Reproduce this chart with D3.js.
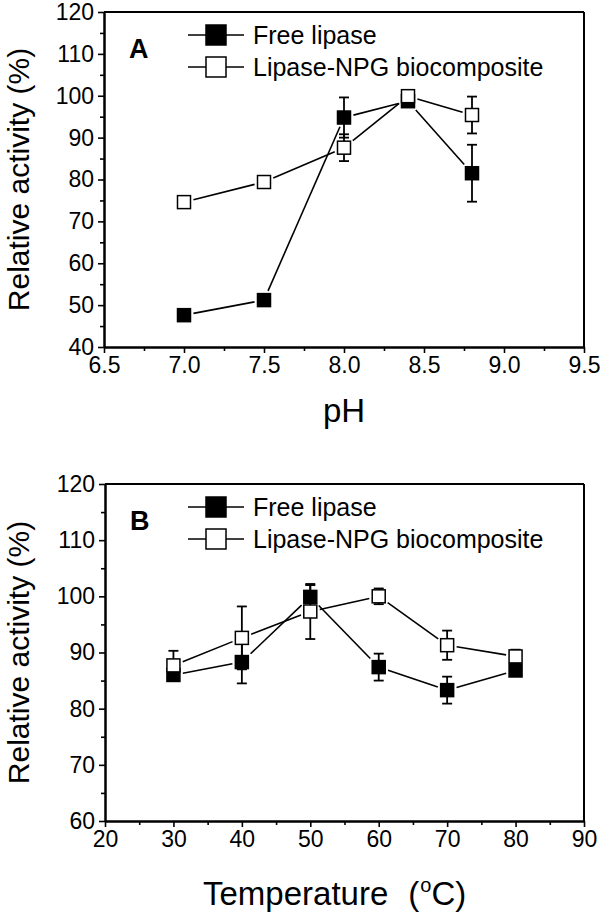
<!DOCTYPE html>
<html><head><meta charset="utf-8">
<script src="https://cdn.jsdelivr.net/npm/d3@7"></script>
<style>body{margin:0;background:#fff}svg{display:block}text{font-family:"Liberation Sans",Arial,sans-serif;fill:#000}</style>
</head><body><svg id="c" width="600" height="913"></svg>
<script>
// Panel A: pH
const phValues = [7.0, 7.5, 8.0, 8.4, 8.8];
const phFree = [47.6, 51.2, 94.8, 98.7, 81.5];
const phFreeErr = [1.0, 0.8, 4.8, 1.0, 6.8];
const phNPG = [74.6, 79.4, 87.6, 99.9, 95.4];
const phNPGErr = [1.2, 1.2, 3.2, 1.0, 4.4];
const phTicks = [6.5, 7.0, 7.5, 8.0, 8.5, 9.0, 9.5];
const phYTicks = [40, 50, 60, 70, 80, 90, 100, 110, 120];

// Panel B: temperature
const tempValues = [30, 40, 50, 60, 70, 80];
const tempFree = [86.0, 88.3, 99.9, 87.4, 83.3, 86.8];
const tempFreeErr = [1.0, 3.8, 2.1, 2.4, 2.4, 1.0];
const tempNPG = [87.7, 92.6, 97.3, 100.0, 91.3, 89.3];
const tempNPGErr = [2.6, 5.6, 4.9, 1.4, 2.6, 1.2];
const tempTicks = [20, 30, 40, 50, 60, 70, 80, 90];
const tempYTicks = [60, 70, 80, 90, 100, 110, 120];

const seriesNames = ["Free lipase", "Lipase-NPG biocomposite"];

const svg = d3.select("#c");

function panel(opt) {
  const x = d3.scaleLinear().domain(opt.xDomain).range([opt.left, opt.right]);
  const y = d3.scaleLinear().domain(opt.yDomain).range([opt.bottom, opt.top]);
  const g = svg.append("g");

  const xMinor = [];
  for (let i = 0; i < opt.xTicks.length - 1; i++) xMinor.push((opt.xTicks[i] + opt.xTicks[i + 1]) / 2);
  const yMinor = [];
  for (let i = 0; i < opt.yTicks.length - 1; i++) yMinor.push((opt.yTicks[i] + opt.yTicks[i + 1]) / 2);

  const xAxis = g.append("g").attr("transform", `translate(0,${opt.bottom})`)
    .call(d3.axisBottom(x).tickValues(opt.xTicks).tickFormat(opt.xFmt).tickSize(6).tickPadding(4).tickSizeOuter(0));
  const xAxisMinor = g.append("g").attr("transform", `translate(0,${opt.bottom})`)
    .call(d3.axisBottom(x).tickValues(xMinor).tickFormat("").tickSize(4).tickSizeOuter(0));
  const yAxis = g.append("g").attr("transform", `translate(${opt.left},0)`)
    .call(d3.axisLeft(y).tickValues(opt.yTicks).tickSize(6).tickPadding(4).tickSizeOuter(0));
  const yAxisMinor = g.append("g").attr("transform", `translate(${opt.left},0)`)
    .call(d3.axisLeft(y).tickValues(yMinor).tickFormat("").tickSize(4).tickSizeOuter(0));
  [xAxis, xAxisMinor, yAxis, yAxisMinor].forEach(a => {
    a.select(".domain").attr("stroke", "#000").attr("stroke-width", 2);
    a.selectAll(".tick line").attr("stroke", "#000").attr("stroke-width", 1.6);
    a.selectAll("text").attr("font-size", 23).attr("font-family", "Liberation Sans, Arial, sans-serif").attr("fill", "#000");
  });

  g.append("line").attr("x1", opt.left).attr("x2", opt.right).attr("y1", opt.top).attr("y2", opt.top).attr("stroke", "#000").attr("stroke-width", 2);
  g.append("line").attr("x1", opt.right).attr("x2", opt.right).attr("y1", opt.top).attr("y2", opt.bottom).attr("stroke", "#000").attr("stroke-width", 2);

  const ms = 13, gap = 3;
  function drawSeries(xs, ys, es, filled) {
    const pts = xs.map((v, i) => [x(v), y(ys[i])]);
    for (let i = 0; i < pts.length - 1; i++) {
      const [x1, y1] = pts[i], [x2, y2] = pts[i + 1];
      const dx = x2 - x1, dy = y2 - y1, len = Math.hypot(dx, dy);
      const ux = dx / len, uy = dy / len;
      const d = (ms / 2) / Math.max(Math.abs(ux), Math.abs(uy)) + gap;
      if (len > 2 * d)
        g.append("line").attr("x1", x1 + ux * d).attr("y1", y1 + uy * d)
          .attr("x2", x2 - ux * d).attr("y2", y2 - uy * d)
          .attr("stroke", "#000").attr("stroke-width", 1.6);
    }
    const eb = g.append("g");
    xs.forEach((v, i) => {
      const cx = x(v), t = y(ys[i] + es[i]), b = y(ys[i] - es[i]);
      eb.append("line").attr("x1", cx).attr("x2", cx).attr("y1", t).attr("y2", b).attr("stroke", "#000").attr("stroke-width", 1.8);
      [t, b].forEach(yy => eb.append("line").attr("x1", cx - 5).attr("x2", cx + 5).attr("y1", yy).attr("y2", yy).attr("stroke", "#000").attr("stroke-width", 1.8));
    });
    g.append("g").selectAll("rect").data(pts).join("rect")
      .attr("x", d => d[0] - ms / 2).attr("y", d => d[1] - ms / 2)
      .attr("width", ms).attr("height", ms)
      .attr("fill", filled ? "#000" : "#fff").attr("stroke", "#000").attr("stroke-width", 1.5);
  }
  drawSeries(opt.xs, opt.free, opt.freeErr, true);
  drawSeries(opt.xs, opt.npg, opt.npgErr, false);

  g.append("text").attr("x", opt.left + 25).attr("y", opt.top + 46).attr("font-size", 27).attr("font-weight", "bold").text(opt.letter);

  const lg = g.append("g");
  seriesNames.forEach((name, i) => {
    const ly = opt.top + 23 + i * 32;
    lg.append("line").attr("x1", 188).attr("x2", 244).attr("y1", ly).attr("y2", ly).attr("stroke", "#000").attr("stroke-width", 1.6);
    lg.append("rect").attr("x", 206).attr("y", ly - 10).attr("width", 20).attr("height", 20)
      .attr("fill", i === 0 ? "#000" : "#fff").attr("stroke", "#000").attr("stroke-width", 1.5);
    lg.append("text").attr("x", 253).attr("y", ly + 9).attr("font-size", 25).text(name);
  });

  const cy = (opt.top + opt.bottom) / 2;
  g.append("text").attr("transform", `translate(29,${cy}) rotate(-90)`).attr("text-anchor", "middle")
    .attr("font-size", 30).text("Relative activity (%)");
  return { x, y, g };
}

const A = panel({
  xDomain: [6.5, 9.5], yDomain: [40, 120], left: 104, right: 584, top: 12, bottom: 347,
  xTicks: phTicks, yTicks: phYTicks, xFmt: d3.format(".1f"),
  xs: phValues, free: phFree, freeErr: phFreeErr, npg: phNPG, npgErr: phNPGErr, letter: "A"
});
A.g.append("text").attr("x", 344).attr("y", 422).attr("text-anchor", "middle").attr("font-size", 33).text("pH");

const B = panel({
  xDomain: [20, 90], yDomain: [60, 120], left: 105, right: 584, top: 484, bottom: 821,
  xTicks: tempTicks, yTicks: tempYTicks, xFmt: d3.format("d"),
  xs: tempValues, free: tempFree, freeErr: tempFreeErr, npg: tempNPG, npgErr: tempNPGErr, letter: "B"
});
const tl = B.g.append("text").attr("x", 203).attr("y", 905).attr("font-size", 33);
tl.append("tspan").text("Temperature");
tl.append("tspan").attr("dx", 20).text("(");
tl.append("tspan").attr("font-size", 20).attr("dy", -13).attr("dx", 1).text("o");
tl.append("tspan").attr("dy", 13).text("C)");
</script></body></html>
